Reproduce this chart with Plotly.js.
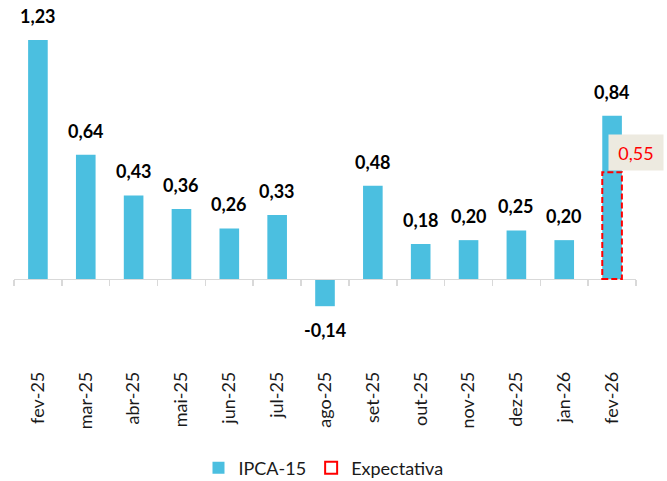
<!DOCTYPE html>
<html>
<head>
<meta charset="utf-8">
<script src="https://cdn.plot.ly/plotly-3.0.1.min.js"></script>
<style>html,body{margin:0;padding:0;background:#fff;}#chart{width:667px;height:481px;}</style>
</head>
<body>
<div id="chart"></div>
<script>
const months = ['fev-25','mar-25','abr-25','mai-25','jun-25','jul-25','ago-25','set-25','out-25','nov-25','dez-25','jan-26','fev-26'];
const ipca15 = [1.23, 0.64, 0.43, 0.36, 0.26, 0.33, -0.14, 0.48, 0.18, 0.20, 0.25, 0.20, 0.84];
const expectativa = [null, null, null, null, null, null, null, null, null, null, null, null, 0.55];

const fmt = v => v.toFixed(2).replace('.', ',');
const barWidth = 0.41;
const yMin = -0.525, yMax = 1.3845;
const FONT = 'Lato, "Open Sans", sans-serif';

const traces = [{
  type: 'bar',
  name: 'IPCA-15',
  x: months,
  y: ipca15,
  width: barWidth,
  marker: {color: '#4BBFE0'},
  hoverinfo: 'skip'
}];

const annotations = months.map((m, i) => ({
  x: m, y: ipca15[i], xref: 'x', yref: 'y',
  text: fmt(ipca15[i]), showarrow: false,
  yanchor: ipca15[i] >= 0 ? 'bottom' : 'top',
  yshift: ipca15[i] >= 0 ? 11 : -11,
  font: {family: FONT, size: 18, weight: 'bold', color: '#000000'}
}));

const shapes = [];
expectativa.forEach((v, i) => {
  if (v === null) return;
  shapes.push({
    type: 'rect', xref: 'x', yref: 'y', layer: 'above',
    x0: i - barWidth / 2, x1: i + barWidth / 2, y0: 0, y1: v,
    line: {color: '#FF0000', width: 2, dash: '6px,3px'},
    fillcolor: 'rgba(0,0,0,0)',
    showlegend: true, name: 'Expectativa'
  });
  annotations.push({
    x: months[i], y: v, xref: 'x', yref: 'y',
    text: fmt(v), showarrow: false,
    xanchor: 'center', yanchor: 'bottom', xshift: 24, yshift: 1,
    width: 42, height: 23, borderpad: 6,
    bgcolor: '#EDEAE0',
    font: {family: FONT, size: 18, color: '#FF0000'}
  });
});

const layout = {
  width: 667, height: 481,
  margin: {l: 14, r: 31, t: 10, b: 100, autoexpand: false},
  paper_bgcolor: '#ffffff', plot_bgcolor: '#ffffff',
  font: {family: FONT, color: '#000000'},
  showlegend: true,
  legend: {
    orientation: 'h', xref: 'container', yref: 'container',
    x: 0.485, xanchor: 'center', y: 0.027, yanchor: 'middle',
    font: {family: FONT, size: 18, color: '#1a1a1a'}
  },
  xaxis: {
    type: 'category', categoryorder: 'array', categoryarray: months,
    range: [-0.5, months.length - 0.5], autorange: false,
    anchor: 'free', position: -yMin / (yMax - yMin),
    automargin: false,
    showline: true, linecolor: '#D9D9D9', linewidth: 1.5,
    ticks: 'outside', ticklen: 6, tickcolor: '#D9D9D9', tickwidth: 1.5,
    tickson: 'boundaries', showgrid: false, zeroline: false,
    tickangle: -90, ticklabelstandoff: 84,
    tickfont: {family: FONT, size: 18, color: '#1a1a1a'},
    fixedrange: true
  },
  yaxis: {range: [yMin, yMax], visible: false, fixedrange: true, automargin: false},
  shapes: shapes,
  annotations: annotations
};

Plotly.newPlot('chart', traces, layout, {displayModeBar: false, staticPlot: true});
</script>
</body>
</html>
